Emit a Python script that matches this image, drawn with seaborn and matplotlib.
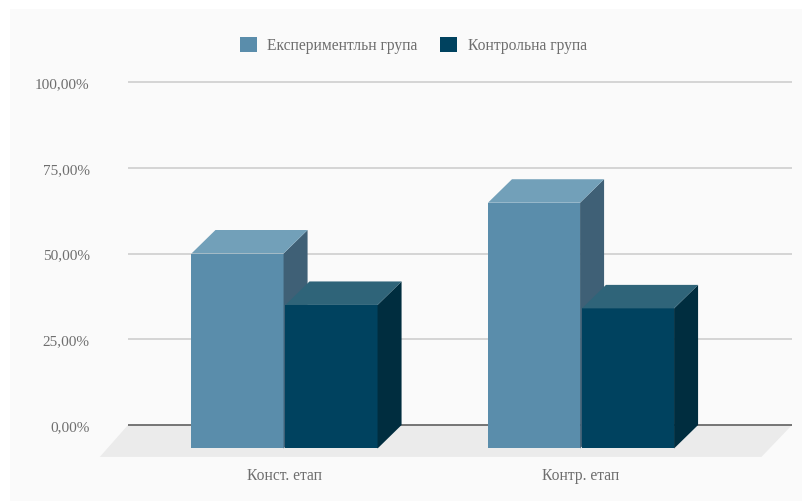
########################################################
# Required Python Packages
########################################################

import pandas as pd
import matplotlib
matplotlib.use("Agg")
import matplotlib.pyplot as plt
import seaborn as sns
from matplotlib.patches import Polygon, Rectangle

########################################################
# Chart Data
########################################################

STAGES = ["Конст. етап", "Контр. етап"]
GROUPS = ["Експериментльн група", "Контрольна група"]
EXPERIMENTAL = [50, 64.8]
CONTROL = [35, 34]
Y_TICKS = [0, 25, 50, 75, 100]
Y_LABELS = ["0,00%", "25,00%", "50,00%", "75,00%", "100,00%"]

########################################################
# Colors and 3D look
########################################################

BACKGROUND = "#fafafa"
FACE_COLORS = ["#5a8dab", "#00425f"]
TOP_COLORS = ["#72a0b9", "#2f6479"]
SIDE_COLORS = ["#3f6076", "#002d3f"]

DEPTH_X = 0.081   # bar depth in category units
DEPTH_Y = 6.85    # bar depth in percent units
FLOOR_LEFT = 0.095
FLOOR_RIGHT = 0.103
FLOOR_Y = 9.3

########################################################
# Draw the side and top faces of one bar
########################################################

def Draw_Bar_Box(ax, bar, top_color, side_color):
    left = bar.get_x()
    right = left + bar.get_width()
    value = bar.get_height()

    # front face hangs below zero, back face sits on the zero line
    bar.set_y(-DEPTH_Y)
    bar.set_height(value + DEPTH_Y)
    bar.set_clip_on(False)

    top = Polygon([(left, value), (right, value),
                   (right + DEPTH_X, value + DEPTH_Y), (left + DEPTH_X, value + DEPTH_Y)],
                  facecolor=top_color, edgecolor="none", zorder=bar.get_zorder(), clip_on=False)
    side = Polygon([(right, value), (right + DEPTH_X, value + DEPTH_Y),
                    (right + DEPTH_X, 0), (right, -DEPTH_Y)],
                   facecolor=side_color, edgecolor="none", zorder=bar.get_zorder(), clip_on=False)
    ax.add_patch(side)
    ax.add_patch(top)

########################################################
# Main Execution
########################################################

def main():
    sns.set_theme(style="white")
    plt.rcParams["font.family"] = ["Liberation Serif", "DejaVu Serif"]

    df = pd.DataFrame({
        "stage": STAGES * 2,
        "group": [GROUPS[0]] * 2 + [GROUPS[1]] * 2,
        "value": EXPERIMENTAL + CONTROL,
    })

    fig = plt.figure(figsize=(8.02, 5.02), dpi=100, facecolor="white")

    # The chart panel leaves a thin white margin at the top and left
    fig.add_artist(Rectangle((10 / 802, 0), 792 / 802, 492 / 502, transform=fig.transFigure,
                             facecolor=BACKGROUND, edgecolor="none", zorder=-1))

    ax = fig.add_axes([128 / 802, 1 - 426 / 502, 664 / 802, 343 / 502])
    ax.set_facecolor("none")

    sns.barplot(data=df, x="stage", y="value", hue="group", palette=FACE_COLORS,
                width=0.634, gap=0.02, saturation=1, ax=ax, zorder=3, linewidth=0)

    ax.set_xlim(-0.5278, 1.7116)
    ax.set_ylim(0, 100)

    # Floor and grid lines
    x0, x1 = ax.get_xlim()
    ax.add_patch(Polygon([(x0, 0), (x1, 0), (x1 - FLOOR_RIGHT, -FLOOR_Y), (x0 - FLOOR_LEFT, -FLOOR_Y)],
                         facecolor="#ebebeb", edgecolor="none", zorder=1, clip_on=False))
    ax.hlines(Y_TICKS[1:], x0, x1, color="#d2d2d2", linewidth=1.3, zorder=2, clip_on=False)
    ax.hlines(0, x0, x1, color="#6a6a6a", linewidth=1.3, zorder=2, clip_on=False)

    # Bars, light group first so the dark tops cover its side
    for i, container in enumerate(ax.containers):
        for bar in container:
            bar.set_zorder(3 + i)
            Draw_Bar_Box(ax, bar, TOP_COLORS[i], SIDE_COLORS[i])

    sns.despine(ax=ax, left=True, bottom=True)
    ax.set_xlabel("")
    ax.set_ylabel("")
    ax.set_yticks(Y_TICKS, Y_LABELS, va="center_baseline")
    ax.tick_params(axis="y", length=0, pad=27.6, labelsize=11, labelcolor="#6e6e6e")
    ax.tick_params(axis="x", length=0, pad=30, labelsize=11.2, labelcolor="#6e6e6e")

    sns.move_legend(ax, "center", bbox_to_anchor=(413.5 / 802, 1 - 46 / 502),
                    bbox_transform=fig.transFigure, ncol=2, frameon=False, title=None,
                    fontsize=11.2, labelcolor="#6e6e6e", handlelength=1.05, handleheight=1.1,
                    handletextpad=0.7, columnspacing=1.45)

    fig.savefig("out.png", dpi=100, facecolor=fig.get_facecolor())

########################################################
# Run Main
########################################################

if __name__ == "__main__":
    main()
